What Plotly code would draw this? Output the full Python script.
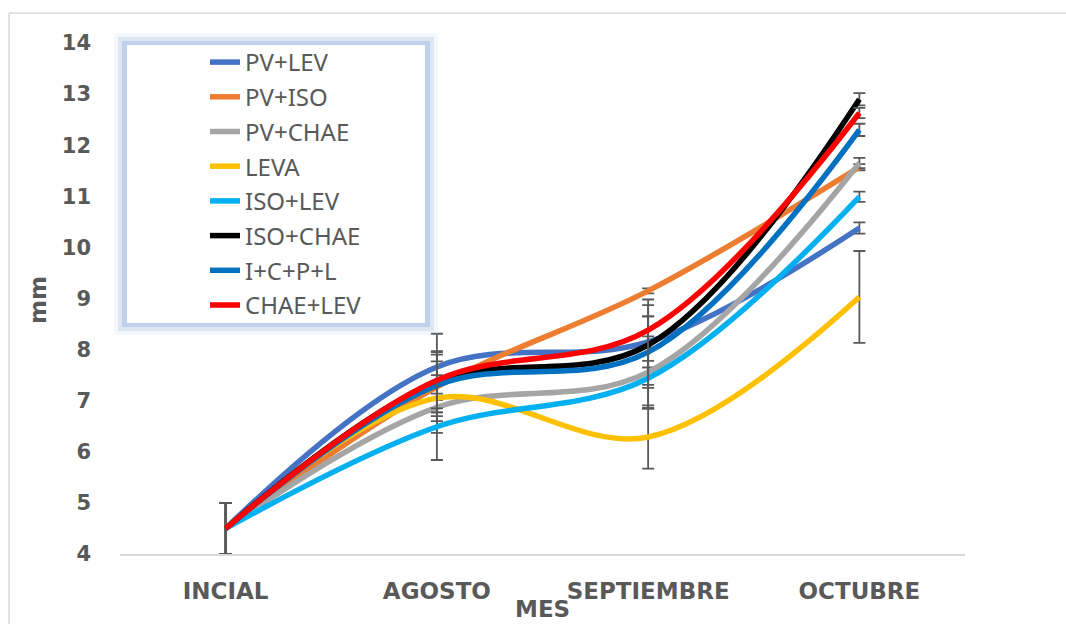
import plotly.graph_objects as go

categories = ["INCIAL", "AGOSTO", "SEPTIEMBRE", "OCTUBRE"]
series_names = ["PV+LEV", "PV+ISO", "PV+CHAE", "LEVA", "ISO+LEV", "ISO+CHAE", "I+C+P+L", "CHAE+LEV"]
colors = ["#4472C4", "#ED7D31", "#A5A5A5", "#FFC000", "#00B0F0", "#000000", "#0070C0", "#FF0000"]

pv_lev = [4.5, 7.66, 8.15, 10.38]
pv_iso = [4.5, 7.27, 9.15, 11.57]
pv_chae = [4.5, 6.87, 7.56, 11.65]
leva = [4.5, 7.05, 6.29, 9.03]
iso_lev = [4.5, 6.49, 7.44, 10.99]
iso_chae = [4.5, 7.37, 8.09, 12.90]
icpl = [4.5, 7.30, 7.95, 12.30]
chae_lev = [4.5, 7.40, 8.38, 12.63]

err_pv_lev = [0.5, 0.65, 0.5, 0.11]
err_pv_iso = [0.5, 0.50, 0.05, 0.06]
err_pv_chae = [0.5, 0.50, 0.70, 0.10]
err_leva = [0.5, 0.45, 0.62, 0.90]
err_iso_lev = [0.5, 0.65, 0.60, 0.10]
err_iso_chae = [0.5, 0.60, 0.78, 0.12]
err_icpl = [0.5, 0.60, 0.70, 0.12]
err_chae_lev = [0.5, 0.55, 0.60, 0.10]

values = [pv_lev, pv_iso, pv_chae, leva, iso_lev, iso_chae, icpl, chae_lev]
errors = [err_pv_lev, err_pv_iso, err_pv_chae, err_leva, err_iso_lev, err_iso_chae, err_icpl, err_chae_lev]

W, H = 1066, 624
L, R, T, B = 120, 965, 43, 554  # plot area in pixels


def px(x):
    return (x - L) / (R - L)


def py(y):
    return (B - y) / (B - T)


fig = go.Figure()
xs = list(range(len(categories)))
for name, col, vals, errs in zip(series_names, colors, values, errors):
    fig.add_trace(go.Scatter(
        x=xs, y=vals, name=name, mode="lines",
        line=dict(color=col, width=5.5, shape="spline", smoothing=1.0),
        error_y=dict(type="data", array=errs, visible=True, color="#595959", thickness=1.8, width=6),
        legendgroup=name,
    ))

TXT = "#595959"
shapes = [
    # chart outer border (left and top edges visible)
    dict(type="line", xref="paper", yref="paper", x0=px(9), x1=px(9), y0=py(640), y1=py(13),
         line=dict(color="#D9D9D9", width=1.5), layer="below"),
    dict(type="line", xref="paper", yref="paper", x0=px(9), x1=px(1080), y0=py(13), y1=py(13),
         line=dict(color="#D9D9D9", width=1.5), layer="below"),
    # legend glow
    dict(type="rect", xref="paper", yref="paper", x0=px(114), x1=px(438), y0=py(335), y1=py(33),
         line=dict(width=0), fillcolor="rgba(180,199,231,0.15)", layer="above"),
    dict(type="rect", xref="paper", yref="paper", x0=px(118), x1=px(434), y0=py(331), y1=py(37),
         line=dict(width=0), fillcolor="rgba(180,199,231,0.35)", layer="above"),
    dict(type="rect", xref="paper", yref="paper", x0=px(122), x1=px(430), y0=py(327), y1=py(41),
         line=dict(width=0), fillcolor="rgba(180,199,231,0.7)", layer="above"),
    dict(type="rect", xref="paper", yref="paper", x0=px(127), x1=px(425), y0=py(323), y1=py(45),
         line=dict(width=0), fillcolor="#FFFFFF", layer="above"),
]

fig.update_layout(
    width=W, height=H,
    margin=dict(l=L, r=W - R, t=T, b=H - B, pad=0),
    paper_bgcolor="white", plot_bgcolor="white",
    showlegend=True,
    legend=dict(x=px(205), y=py(40), xanchor="left", yanchor="top",
                bgcolor="rgba(0,0,0,0)", borderwidth=0,
                font=dict(family="Noto Sans", size=24, color=TXT),
                tracegroupgap=0.5, itemwidth=30),
    xaxis=dict(range=[-0.5, 3.5], tickvals=xs, ticktext=categories, showgrid=False, zeroline=False,
               showline=True, linecolor="#D9D9D9", linewidth=1.5, ticks="",
               tickfont=dict(family="DejaVu Sans", size=23, color=TXT, weight="bold"),
               ticklabelstandoff=16),
    yaxis=dict(range=[4, 14], dtick=1, tick0=4, showgrid=False, zeroline=False, showline=False,
               ticks="", tickfont=dict(family="DejaVu Sans", size=21, color=TXT, weight="bold"),
               ticklabelstandoff=28),
    shapes=shapes,
    annotations=[
        dict(text="MES", xref="paper", yref="paper", x=0.5, y=py(609), xanchor="center", yanchor="middle",
             showarrow=False, font=dict(family="DejaVu Sans", size=23, color=TXT, weight="bold")),
        dict(text="mm", xref="paper", yref="paper", x=px(38), y=py(300), xanchor="center", yanchor="middle",
             textangle=-90, showarrow=False, font=dict(family="DejaVu Sans", size=23, color=TXT, weight="bold")),
    ],
)

fig.write_html("out.html", config={"displayModeBar": False},
               post_script="document.body.style.margin='0';document.body.style.padding='0';document.body.style.overflow='hidden';")
